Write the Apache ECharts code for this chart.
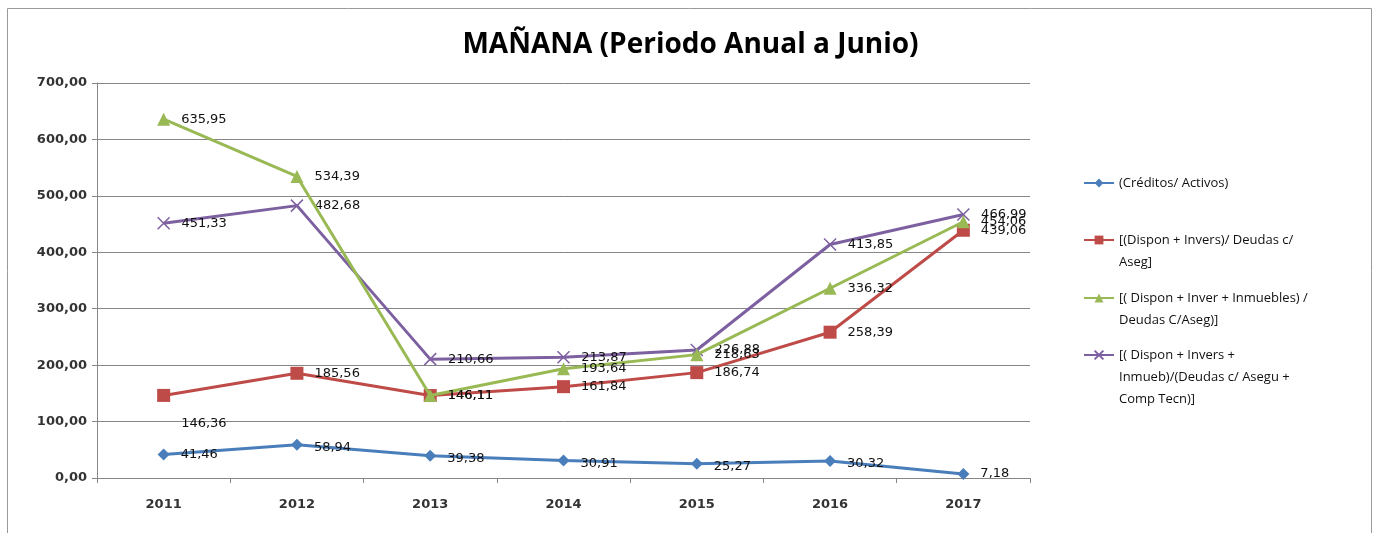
<!DOCTYPE html>
<html><head><meta charset="utf-8">
<script src="https://cdn.jsdelivr.net/npm/echarts@6/dist/echarts.min.js"></script>
<style>html,body{margin:0;padding:0;background:#fff}#c{width:1381px;height:533px}</style>
</head><body><div id="c"></div>
<script>
const categories = ['2011','2012','2013','2014','2015','2016','2017'];
const seriesNames = [
  '(Créditos/ Activos)',
  '[(Dispon + Invers)/ Deudas c/\nAseg]',
  '[( Dispon + Inver + Inmuebles) /\nDeudas C/Aseg)]',
  '[( Dispon + Invers +\nInmueb)/(Deudas c/ Asegu +\nComp Tecn)]'
];
const creditos = [41.46, 58.94, 39.38, 30.91, 25.27, 30.32, 7.18];
const disponInvers = [146.36, 185.56, 146.11, 161.84, 186.74, 258.39, 439.06];
const disponInverInmuebles = [635.95, 534.39, 146.11, 193.64, 218.63, 336.32, 454.06];
const disponInversComp = [451.33, 482.68, 210.66, 213.87, 226.88, 413.85, 466.99];
const yTicks = [0, 100, 200, 300, 400, 500, 600, 700];

const colors = ['#4a7ebb', '#be4b48', '#98b954', '#7d60a0'];
const symbols = ['diamond', 'rect', 'triangle', 'path://M0,0L10,10M10,0L0,10'];
const symbolSizes = [12, 13, 13, 12];
const fmt = v => v.toFixed(2).replace('.', ',');
const labelFont = {fontFamily: 'DejaVu Sans', fontSize: 13, color: '#111'};

const dataSets = [creditos, disponInvers, disponInverInmuebles, disponInversComp];
const series = dataSets.map((arr, i) => ({
  name: seriesNames[i],
  type: 'line',
  data: arr.map((v, j) => {
    const d = {value: v};
    if (i === 1 && j === 0) d.label = {offset: [0, 28]};
    if (i === 0 && j > 0 && j < 6) d.label = {offset: [0, 3]};
    return d;
  }),
  symbol: symbols[i],
  symbolSize: symbolSizes[i],
  z: 2 + (i === 2 ? 1 : 0),
  lineStyle: {color: colors[i], width: 3},
  itemStyle: {color: colors[i], borderColor: colors[i], borderWidth: i === 3 ? 1.5 : 0},
  label: Object.assign({show: true, position: 'right', distance: 11, formatter: p => fmt(p.value)}, labelFont),
  emphasis: {disabled: true},
  animation: false
}));

const iconY = [183, 240, 298, 355];
const lines = seriesNames.map(n => n.split('\n').length);
const L = 22;
const legends = seriesNames.map((n, i) => ({
  data: [n],
  left: 1083,
  top: iconY[i] - (2 * lines[i] - 1) * L / 2,
  padding: 0,
  itemWidth: 30,
  itemHeight: 11,
  itemGap: 5,
  selectedMode: false,
  formatter: name => '\n'.repeat(lines[i] - 1) + name,
  textStyle: {fontFamily: 'Open Sans', fontSize: 13, color: '#111', lineHeight: L}
}));

const chart = echarts.init(document.getElementById('c'), null, {renderer: 'canvas'});
chart.setOption({
  backgroundColor: '#fff',
  animation: false,
  title: {
    text: 'MAÑANA (Periodo Anual a Junio)',
    left: 'center', top: 26,
    textStyle: {fontFamily: 'Open Sans', fontWeight: 'bold', fontSize: 28, color: '#000'}
  },
  graphic: [{
    type: 'rect', shape: {x: 7.5, y: 8.5, width: 1364, height: 540},
    style: {fill: 'none', stroke: '#9a9a9a', lineWidth: 1}, silent: true, z: -1
  }],
  legend: legends,
  grid: {left: 97, right: 351, top: 83, bottom: 55, containLabel: false},
  xAxis: {
    type: 'category', data: categories, boundaryGap: true,
    axisLine: {lineStyle: {color: '#868686', width: 1}},
    axisTick: {show: true, alignWithLabel: false, length: 5, lineStyle: {color: '#868686'}},
    axisLabel: {fontFamily: 'DejaVu Sans', fontWeight: 'bold', fontSize: 13, color: '#333', margin: 20}
  },
  yAxis: {
    type: 'value', min: 0, max: 700, interval: 100,
    axisLine: {show: true, lineStyle: {color: '#868686', width: 1}},
    axisTick: {show: true, length: 5, lineStyle: {color: '#868686'}},
    splitLine: {lineStyle: {color: '#868686', width: 1}},
    axisLabel: {fontFamily: 'DejaVu Sans', fontWeight: 'bold', fontSize: 13, color: '#333', margin: 10,
      formatter: v => yTicks.includes(v) ? fmt(v) : ''}
  },
  series: series
});
</script>
</body></html>
